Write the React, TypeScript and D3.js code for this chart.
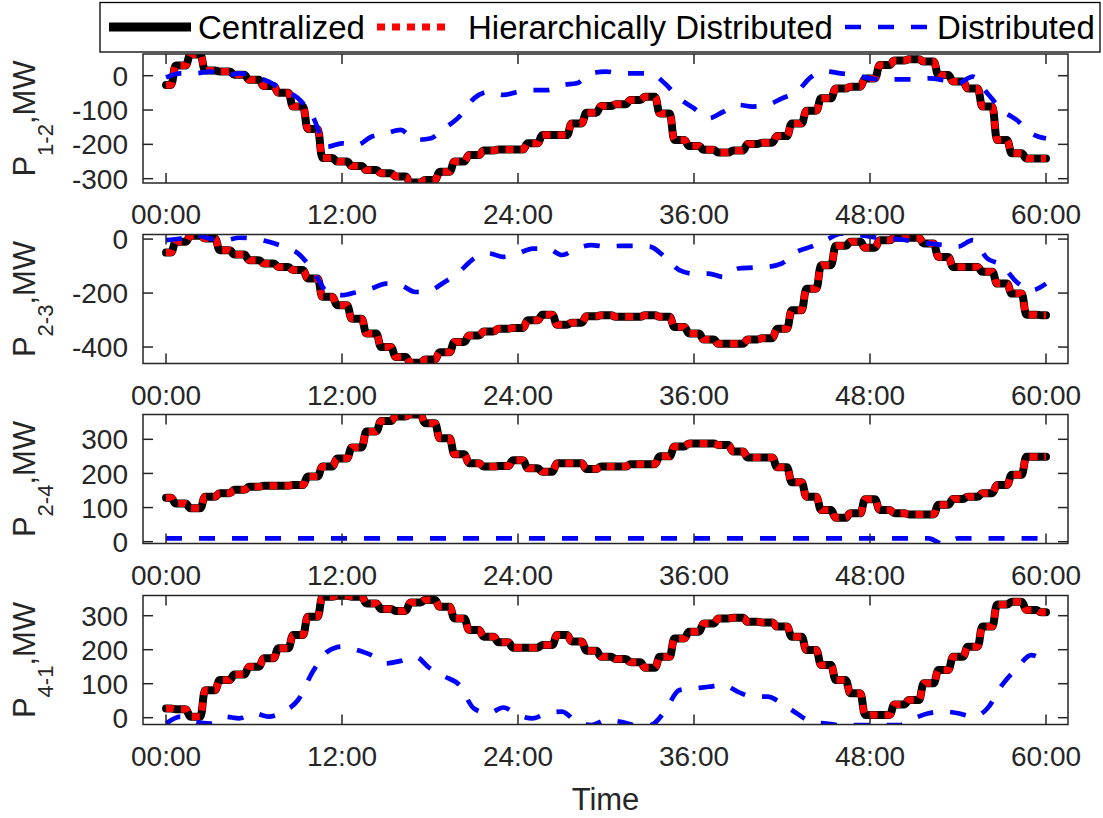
import React from "react";
import * as d3 from "d3";

// time axis (hours)
const hours = d3.range(0, 61);
const timeTicks = [0, 12, 24, 36, 48, 60];
const timeLabels = ["00:00", "12:00", "24:00", "36:00", "48:00", "60:00"];

// P1-2
const p12Central = [-27, 30, 62, 15, 12, 3, -12, -30, -50, -90, -155, -240, -250, -263, -275, -284, -294, -311, -304, -280, -250, -231, -218, -215, -215, -197, -173, -173, -139, -108, -88, -83, -71, -61, -110, -187, -205, -216, -224, -218, -199, -195, -176, -139, -102, -66, -37, -32, -8, 31, 44, 48, 41, 2, -17, -37, -90, -187, -226, -241, -241];
const p12Hier = p12Central;
const p12Dist = [-5, 7, 7, 12, -1, 7, -3, -17, -42, -66, -119, -207, -197, -202, -178, -168, -158, -187, -183, -153, -119, -66, -47, -56, -47, -42, -42, -27, -22, 7, 12, 7, 7, 7, -22, -66, -95, -124, -105, -85, -90, -85, -66, -47, -3, 12, 7, 2, -8, -11, -11, -11, -8, -13, -22, -3, -51, -100, -129, -168, -183];

// P2-3
const p23Central = [-50, -10, 12, 2, -41, -57, -78, -90, -103, -115, -146, -214, -245, -295, -350, -400, -437, -458, -446, -419, -381, -357, -342, -332, -329, -301, -280, -317, -310, -286, -282, -288, -288, -282, -288, -326, -350, -372, -388, -388, -372, -367, -332, -264, -184, -97, -25, -10, -32, -4, 5, 5, -16, -66, -103, -103, -121, -165, -202, -280, -282];
const p23Hier = p23Central;
const p23Dist = [-4, 2, 15, 2, -4, 5, 2, -10, -28, -53, -115, -196, -208, -196, -183, -165, -171, -196, -190, -159, -121, -72, -53, -66, -53, -35, -35, -59, -35, -22, -28, -25, -25, -28, -66, -115, -128, -128, -140, -109, -106, -103, -90, -47, -28, -4, 20, 17, 9, 2, 0, -10, -16, -22, -28, -4, -72, -97, -159, -190, -165];

// P2-4
const p24Central = [129, 112, 98, 132, 142, 152, 161, 164, 164, 166, 191, 220, 244, 276, 323, 354, 367, 373, 347, 303, 256, 230, 220, 222, 239, 215, 205, 230, 230, 213, 220, 220, 227, 227, 250, 279, 288, 288, 283, 264, 247, 247, 218, 174, 132, 93, 70, 83, 124, 93, 83, 80, 80, 108, 125, 132, 142, 166, 196, 249, 249];
const p24Hier = p24Central;
const p24Dist = [10, 10, 10, 10, 10, 10, 10, 10, 10, 10, 10, 10, 10, 10, 10, 10, 10, 10, 10, 10, 10, 10, 10, 10, 10, 10, 10, 10, 10, 10, 10, 10, 10, 10, 10, 10, 10, 10, 10, 10, 10, 10, 10, 10, 10, 10, 10, 10, 10, 10, 10, 10, 10, -7, 10, 10, 10, 10, 10, 10, 10];

// P4-1
const p41Central = [27, 25, 3, 81, 111, 127, 150, 175, 204, 243, 297, 356, 359, 356, 336, 320, 314, 339, 346, 326, 292, 258, 238, 222, 206, 206, 214, 243, 224, 197, 179, 173, 163, 147, 179, 233, 253, 277, 292, 294, 282, 280, 268, 238, 199, 155, 111, 72, 8, 8, 39, 52, 101, 140, 179, 209, 268, 333, 341, 317, 310];
const p41Hier = p41Central;
const p41Dist = [-17, 3, -12, -17, 3, -2, 13, 3, 18, 52, 135, 194, 209, 199, 184, 160, 167, 179, 145, 121, 96, 27, 13, 30, 8, -2, 13, 18, -12, -22, -7, -12, -22, -22, 18, 81, 86, 91, 96, 76, 62, 62, 42, 13, -12, -17, -22, -22, -22, -22, -22, -2, 13, 18, 13, 3, 27, 96, 145, 184, 160];

const seriesNames = ["Centralized", "Hierarchically Distributed", "Distributed"];

const panels = [
  { sub: "1-2", central: p12Central, hier: p12Hier, dist: p12Dist, domain: [-312.6, 63.2], ticks: [-300, -200, -100, 0] },
  { sub: "2-3", central: p23Central, hier: p23Hier, dist: p23Dist, domain: [-461, 17], ticks: [-400, -200, 0] },
  { sub: "2-4", central: p24Central, hier: p24Hier, dist: p24Dist, domain: [-5.3, 372.7], ticks: [0, 100, 200, 300] },
  { sub: "4-1", central: p41Central, hier: p41Hier, dist: p41Dist, domain: [-20, 359.4], ticks: [0, 100, 200, 300] },
];

// stair-like curve: flat around each point, short S transition in between
function smoothStep(context: any) {
  let x0 = NaN, y0 = NaN, pt = 0;
  return {
    areaStart() {},
    areaEnd() {},
    lineStart() { pt = 0; },
    lineEnd() {},
    point(x: number, y: number) {
      x = +x; y = +y;
      if (pt === 0) { context.moveTo(x, y); pt = 1; }
      else {
        const dx = x - x0;
        const a = x0 + dx * 0.32, b = x - dx * 0.32, m = (a + b) / 2;
        context.lineTo(a, y0);
        context.bezierCurveTo(m, y0, m, y, b, y);
        context.lineTo(x, y);
      }
      x0 = x; y0 = y;
    },
  };
}

const W = 1103, H = 818;
const left = 143, right = 1068;
const tops = [54, 234.5, 414.5, 595.5];
const ph = 129;
const axisColor = "#262626";
const font = "'Liberation Sans', Arial, sans-serif";

const x = d3.scaleLinear().domain([-1.57, 61.5]).range([left, right]);

const Panel = ({ p, i }: any) => {
  const top = tops[i];
  const bottom = top + ph;
  const y = d3.scaleLinear().domain(p.domain).range([bottom, top]);
  const line = d3.line<number>().x((_, k) => x(hours[k])).y((d) => y(d)).curve(smoothStep as any);
  const distLine = d3.line<number>().x((_, k) => x(hours[k])).y((d) => y(d)).curve(d3.curveMonotoneX);
  const clipId = `clip${i}`;
  return (
    <g>
      <defs>
        <clipPath id={clipId}>
          <rect x={left} y={top} width={right - left} height={ph} />
        </clipPath>
      </defs>
      <rect x={left} y={top} width={right - left} height={ph} fill="#fff" />
      <g clipPath={`url(#${clipId})`}>
        <path d={line(p.central) || ""} fill="none" stroke="#000" strokeWidth={8} strokeLinejoin="round" strokeLinecap="round" />
        <path d={line(p.hier) || ""} fill="none" stroke="#ff0000" strokeWidth={7} strokeDasharray="8,7" />
        <path d={distLine(p.dist) || ""} fill="none" stroke="#0000ff" strokeWidth={4.7} strokeDasharray="16,17" />
      </g>
      <rect x={left} y={top} width={right - left} height={ph} fill="none" stroke={axisColor} strokeWidth={1.5} />
      {timeTicks.map((t, k) => (
        <g key={`xt${k}`}>
          <line x1={x(t)} x2={x(t)} y1={bottom} y2={bottom - 10} stroke={axisColor} strokeWidth={1.5} />
          <line x1={x(t)} x2={x(t)} y1={top} y2={top + 10} stroke={axisColor} strokeWidth={1.5} />
          <text x={x(t)} y={bottom + 41} textAnchor="middle" fontSize={28} fill={axisColor} fontFamily={font}>{timeLabels[k]}</text>
        </g>
      ))}
      {p.ticks.map((t: number) => (
        <g key={`yt${t}`}>
          <line x1={left} x2={left + 10} y1={y(t)} y2={y(t)} stroke={axisColor} strokeWidth={1.5} />
          <line x1={right} x2={right - 10} y1={y(t)} y2={y(t)} stroke={axisColor} strokeWidth={1.5} />
          <text x={128} y={y(t)} dy="0.36em" textAnchor="end" fontSize={28} fill={axisColor} fontFamily={font}>{t}</text>
        </g>
      ))}
      <text transform={`translate(35,${(top + bottom) / 2}) rotate(-90)`} textAnchor="middle" fontSize={31} fill={axisColor} fontFamily={font}>
        <tspan>P</tspan>
        <tspan dy={18} fontSize={22}>{p.sub}</tspan>
        <tspan dy={-18}>,MW</tspan>
      </text>
    </g>
  );
};

export default function App() {
  return (
    <svg width={W} height={H} style={{ position: "absolute", left: 0, top: 0, background: "#fff" }}>
      <rect width={W} height={H} fill="#fff" />
      {panels.map((p, i) => <Panel key={i} p={p} i={i} />)}
      <text x={(left + right) / 2} y={810} textAnchor="middle" fontSize={31} fill={axisColor} fontFamily={font}>Time</text>
      {/* legend */}
      <g fontFamily={font} fontSize={33}>
        <rect x={100} y={2.5} width={1000} height={49.5} fill="#fff" stroke="#000" strokeWidth={1.3} />
        <line x1={109} x2={191} y1={27} y2={27} stroke="#000" strokeWidth={9} />
        <text x={198} y={39} fill="#000">{seriesNames[0]}</text>
        <line x1={377} x2={451} y1={27} y2={27} stroke="#ff0000" strokeWidth={7} strokeDasharray="8,7" />
        <text x={468} y={39} fill="#000">{seriesNames[1]}</text>
        <line x1={845} x2={930} y1={27} y2={27} stroke="#0000ff" strokeWidth={4.7} strokeDasharray="16,17" />
        <text x={937} y={39} fill="#000">{seriesNames[2]}</text>
      </g>
    </svg>
  );
}
